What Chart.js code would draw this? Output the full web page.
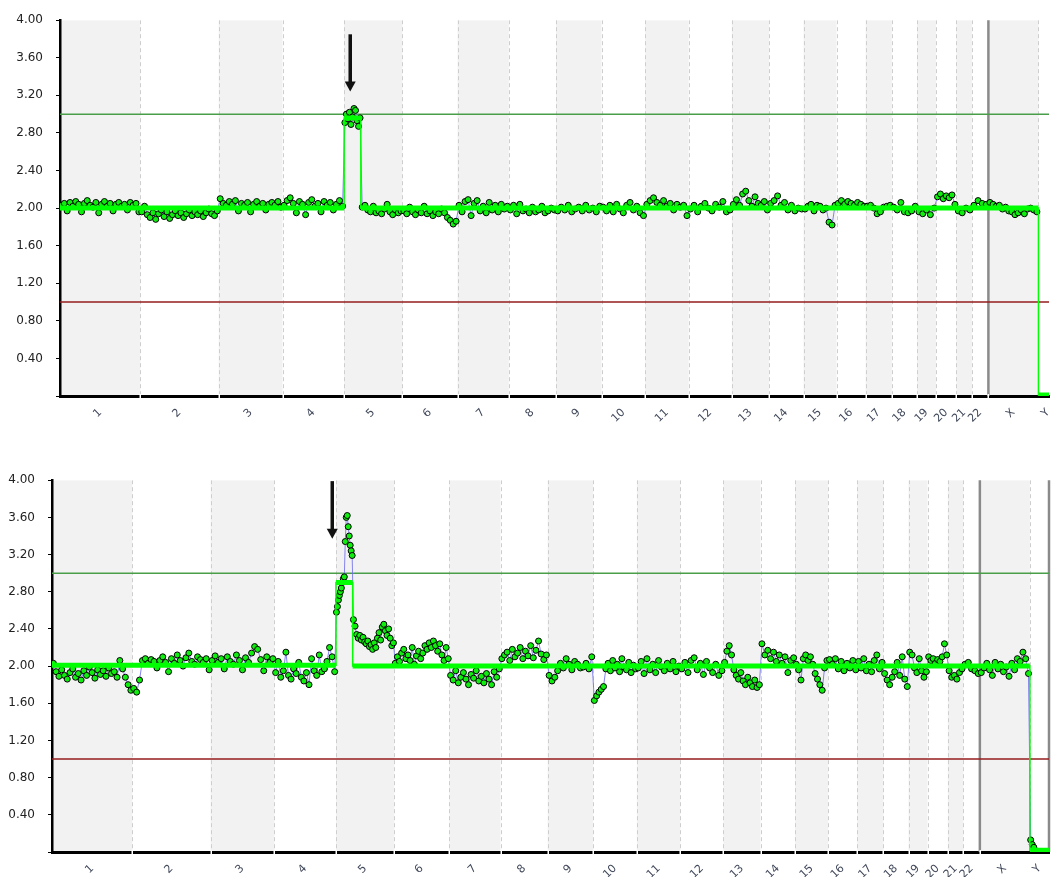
<!DOCTYPE html>
<html>
<head>
<meta charset="utf-8">
<script src="https://cdn.jsdelivr.net/npm/chart.js@4.4.1/dist/chart.umd.min.js"></script>
<style>
  body { margin: 0; background: #fff; }
  canvas { position: absolute; left: 0; }
  #chartTop { top: 0; }
  #chartBottom { top: 460px; }
</style>
</head>
<body>
<canvas id="chartTop" width="1054" height="440"></canvas>
<canvas id="chartBottom" width="1054" height="417"></canvas>
<script>
// chromosomes and their lengths (Mb)
const chromNames = ['1', '2', '3', '4', '5', '6', '7', '8', '9', '10', '11', '12',
  '13', '14', '15', '16', '17', '18', '19', '20', '21', '22', 'X', 'Y'];
const chromMb = [249.25, 243.2, 198.0, 191.2, 180.9, 171.1, 159.1, 146.4, 141.2, 135.5, 135.0, 133.9,
  115.2, 107.3, 102.5, 90.4, 81.2, 78.1, 59.1, 63.0, 48.1, 51.3, 155.3, 59.4];
const gainBreakMb = 933.5; // end of the 5p gain

const yTicks = [0, 0.4, 0.8, 1.2, 1.6, 2.0, 2.4, 2.8, 3.2, 3.6, 4.0];
const refLevels = [3, 1];

// ratio values per region: chr1..chr4, chr5 (gain part), chr5 (rest), chr6..chrY
const topRatio = [
  [2.03, 2.05, 1.97, 2.06, 2.02, 2.07, 2.04, 1.96, 2.05, 2.08, 2.03, 2.01, 2.06, 1.95, 2.04, 2.07, 2.02, 2.05, 1.97, 2.04, 2.06, 2.02, 2.04, 1.98, 2.06, 2.03, 2.05, 1.96],
  [1.96, 2.02, 1.93, 1.90, 1.95, 1.88, 1.94, 1.98, 1.91, 1.96, 1.89, 1.93, 1.97, 1.92, 1.95, 1.90, 1.94, 1.98, 1.92, 1.96, 1.93, 1.97, 1.91, 1.95, 1.99, 1.94, 1.92, 1.97],
  [2.10, 2.05, 2.03, 2.07, 2.04, 2.08, 1.97, 2.05, 2.03, 2.06, 1.96, 2.04, 2.07, 2.02, 2.05, 1.98, 2.04, 2.06, 2.03, 2.07, 2.01],
  [2.03, 2.08, 2.11, 2.05, 1.95, 2.07, 2.04, 1.93, 2.06, 2.09, 2.02, 2.05, 1.96, 2.07, 2.03, 2.06, 1.98, 2.04, 2.08, 2.02],
  [2.91, 3.00, 2.95, 3.02, 2.89, 2.97, 3.06, 3.04, 2.93, 2.87, 2.96],
  [2.01, 2.03, 1.98, 1.96, 2.02, 1.95, 1.97, 1.94, 1.99, 2.04, 1.96, 1.93, 1.98, 1.95, 1.97],
  [1.97, 1.94, 2.01, 1.96, 1.93, 1.98, 1.95, 2.02, 1.94, 1.97, 1.92, 1.96, 1.94, 1.99, 1.95, 1.90, 1.87, 1.83, 1.86],
  [2.03, 1.96, 2.07, 2.09, 1.92, 2.05, 2.08, 1.97, 2.02, 1.95, 2.06, 1.98, 2.03, 1.96, 2.04, 1.99, 2.02],
  [1.98, 2.03, 1.94, 2.04, 1.97, 1.99, 1.95, 2.01, 1.96, 1.98, 2.02, 1.95, 1.97, 2.00, 1.98],
  [1.97, 2.01, 1.98, 2.03, 1.96, 1.99, 2.01, 1.97, 2.03, 1.98, 2.00, 1.96, 2.02],
  [2.01, 1.97, 2.03, 1.96, 2.04, 1.99, 1.95, 2.03, 2.06, 1.98, 2.02, 1.95, 1.92],
  [2.04, 2.08, 2.11, 2.06, 2.03, 2.08, 2.02, 2.05, 1.98, 2.04, 2.01, 2.03, 1.92],
  [1.99, 2.03, 1.96, 2.02, 2.05, 2.00, 1.97, 2.04, 2.01, 2.07, 1.96, 1.98],
  [2.04, 2.09, 2.03, 2.15, 2.18, 2.08, 2.02, 2.12, 2.05, 2.03, 2.07, 1.98],
  [2.05, 2.08, 2.13, 2.03, 2.06, 1.98, 2.03, 1.97, 2.00, 1.99],
  [1.99, 2.02, 2.04, 1.97, 2.03, 2.02, 1.98, 2.00, 1.85, 1.82, 2.03],
  [2.05, 2.08, 2.04, 2.07, 2.05, 2.03, 2.06, 2.04, 2.02],
  [2.02, 2.03, 2.00, 1.94, 1.96, 2.01, 2.02, 2.03],
  [2.01, 1.98, 2.06, 1.96, 1.95, 1.97, 2.02],
  [1.96, 1.94, 1.98, 1.93, 2.00],
  [2.12, 2.15, 2.10, 2.13, 2.11, 2.14, 2.04],
  [1.97, 1.95, 2.00, 1.98],
  [2.03, 2.08, 2.05, 2.04],
  [2.06, 2.04, 2.02, 2.03, 1.99, 2.01, 1.97, 1.96, 1.93, 1.95, 1.98, 1.94, 1.99, 2.00, 1.98, 1.96],
  []
];

const bottomRatio = [
  [2.03, 1.94, 1.89, 1.96, 1.90, 1.86, 1.93, 1.97, 1.88, 1.92, 1.85, 1.95, 1.90, 1.99, 1.93, 1.87, 1.96, 1.91, 1.95, 1.89, 1.98, 1.92, 1.94, 1.88, 2.06, 1.97, 1.88, 1.80, 1.74],
  [1.76, 1.72, 1.85, 2.06, 2.08, 2.03, 2.07, 2.05, 1.98, 2.06, 2.10, 2.04, 1.94, 2.08, 2.03, 2.12, 2.06, 2.00, 2.09, 2.14, 2.05, 2.02, 2.10, 2.07, 2.04, 2.08, 1.96],
  [2.06, 2.11, 2.04, 2.08, 1.97, 2.10, 2.05, 2.02, 2.12, 2.06, 1.96, 2.09, 2.04, 2.14, 2.21, 2.18, 2.07, 1.95, 2.10, 2.04, 2.08],
  [1.93, 2.05, 1.88, 1.95, 2.15, 1.90, 1.86, 1.97, 1.92, 2.04, 1.88, 1.84, 1.93, 1.80, 2.08, 1.95, 1.90, 2.12, 1.94, 1.97, 2.05, 2.20, 2.10, 1.94],
  [2.58, 2.64, 2.71, 2.76, 2.80, 2.84, 2.90, 2.94, 2.96, 3.34, 3.60, 3.62, 3.50, 3.40, 3.30, 3.24, 3.19],
  [2.50, 2.43, 2.34, 2.30, 2.33, 2.28, 2.31, 2.26, 2.24, 2.27, 2.21, 2.23, 2.18, 2.25, 2.20, 2.30, 2.36, 2.28, 2.42, 2.45, 2.38, 2.33, 2.40, 2.30, 2.22, 2.25],
  [2.03, 2.10, 2.05, 2.14, 2.18, 2.08, 2.12, 2.06, 2.20, 2.02, 2.11, 2.16, 2.08, 2.14, 2.22, 2.18, 2.25, 2.20, 2.27, 2.22, 2.16, 2.24, 2.12, 2.06, 2.20, 2.08],
  [1.90, 1.85, 1.95, 1.82, 1.88, 1.93, 1.86, 1.80, 1.91, 1.87, 1.95, 1.84, 1.89, 1.82, 1.92, 1.86, 1.80, 1.94, 1.88, 1.97],
  [2.08, 2.12, 2.15, 2.06, 2.18, 2.10, 2.14, 2.20, 2.08, 2.16, 2.11, 2.22, 2.09, 2.17, 2.27, 2.13, 2.07, 2.12],
  [1.90, 1.84, 1.88, 1.95, 2.03, 1.98, 2.08, 2.02, 1.96, 2.05, 2.02, 1.98, 1.99, 2.03, 1.97, 2.10],
  [1.63, 1.68, 1.72, 1.75, 1.78, 1.97, 2.03, 1.95, 2.06, 1.98, 2.02, 1.94, 2.08, 1.99, 1.96, 2.04, 1.93, 2.01, 1.97],
  [1.98, 2.05, 1.92, 2.08, 1.96, 2.02, 1.93, 2.06, 1.99, 1.95, 2.03, 1.97, 2.05, 1.94, 2.00],
  [1.97, 2.04, 1.93, 2.06, 2.09, 1.96, 2.03, 1.91, 2.05, 1.98, 1.93, 2.02, 1.90, 1.95],
  [2.04, 2.16, 2.22, 2.12, 1.96, 1.90, 1.86, 1.93, 1.84, 1.80, 1.88, 1.82, 1.78, 1.85, 1.77, 1.80],
  [2.24, 2.12, 2.17, 2.08, 2.15, 2.05, 2.12, 2.03, 2.10, 1.93, 2.06, 2.09],
  [2.02, 1.96, 1.85, 2.08, 2.12, 2.06, 2.10, 2.02, 1.92, 1.86, 1.80, 1.74, 1.98, 2.06],
  [2.07, 2.02, 2.08, 1.97, 2.05, 1.95, 2.03, 1.98, 2.06, 1.96],
  [2.05, 1.98, 2.08, 1.95, 2.02, 1.94, 2.06, 2.12, 1.97, 2.04],
  [1.92, 1.85, 1.80, 1.88, 1.94, 2.04, 1.90, 2.10, 1.86, 1.78],
  [2.15, 2.12, 1.98, 1.93, 2.08, 1.95, 1.88, 1.94],
  [2.10, 2.06, 2.08, 2.03, 2.07, 2.05, 2.10, 2.24, 2.12],
  [1.95, 1.88, 1.90, 1.86, 1.93, 1.97],
  [2.02, 2.04, 1.97, 1.95, 1.92],
  [1.93, 1.98, 2.03, 1.96, 1.90, 2.04, 1.97, 2.02, 1.94, 1.99, 1.89, 2.03, 1.96, 2.08, 2.05, 2.15, 2.08, 1.92],
  [0.13, 0.08, 0.05, null, null, null, null, null, null, null, null, null]
];

// copy-number segments: [startMb, endMb, level]
const topSegments = [[0, 881.65, 2.0], [881.65, 933.5, 2.96], [933.5, 3036.25, 2.0], [3036.25, 3095.65, 0.01]];
const bottomSegments = [[0, 881.65, 2.01], [881.65, 933.5, 2.9], [933.5, 3036.25, 2.0], [3036.25, 3095.65, 0.02]];

// arrows: [xMb, fromY, toY]
const topArrow = [900.6, 3.85, 3.24];
const bottomArrow = [870.2, 3.99, 3.37];

// chromosome starts / regions
const chromStart = [];
let acc = 0;
chromMb.forEach(len => { chromStart.push(acc); acc += len; });
const genomeEnd = acc;
const chromCenter = chromMb.map((len, i) => chromStart[i] + len / 2);
const regions = [];
chromMb.forEach((len, i) => {
  if (i === 4) {
    regions.push([chromStart[i], gainBreakMb]);
    regions.push([gainBreakMb, chromStart[i] + len]);
  } else {
    regions.push([chromStart[i], chromStart[i] + len]);
  }
});

function toPoints(ratio) {
  const pts = [];
  ratio.forEach((vals, r) => {
    const [s, e] = regions[r];
    vals.forEach((v, i) => pts.push({ x: s + (i + 0.5) * (e - s) / vals.length, y: v }));
  });
  return pts;
}

const genomePlugin = {
  id: 'genome',
  beforeDraw(chart) {
    const { ctx, chartArea: a, scales: { x } } = chart;
    ctx.save();
    ctx.beginPath();
    ctx.rect(a.left, a.top, a.right - a.left, a.bottom - a.top);
    ctx.clip();
    ctx.fillStyle = '#f2f2f2';
    chromStart.forEach((s, i) => {
      if (i % 2 === 0) {
        const x0 = x.getPixelForValue(s);
        const x1 = x.getPixelForValue(s + chromMb[i]);
        ctx.fillRect(x0, a.top, x1 - x0, a.bottom - a.top);
      }
    });
    ctx.setLineDash([4, 3]);
    ctx.strokeStyle = '#cecece';
    ctx.lineWidth = 1;
    chromStart.forEach((s, i) => {
      if (i === 0 || i === 22) return;
      const px = Math.round(x.getPixelForValue(s)) + 0.5;
      ctx.beginPath();
      ctx.moveTo(px, a.top);
      ctx.lineTo(px, a.bottom);
      ctx.stroke();
    });
    ctx.restore();
  },
  beforeDatasetsDraw(chart) {
    const { ctx, chartArea: a, scales: { x, y } } = chart;
    ctx.save();
    // solid separators at the start of X and the end of Y
    ctx.strokeStyle = '#8a8a8a';
    ctx.lineWidth = 2.5;
    [chromStart[22], genomeEnd].forEach(v => {
      const px = x.getPixelForValue(v);
      if (px > a.right + 1) return;
      ctx.beginPath();
      ctx.moveTo(px, a.top);
      ctx.lineTo(px, a.bottom);
      ctx.stroke();
    });
    // gain / loss thresholds
    const colors = ['#4a9e4a', '#941c1c'];
    refLevels.forEach((lv, i) => {
      const py = y.getPixelForValue(lv);
      ctx.strokeStyle = colors[i];
      ctx.lineWidth = 1.5;
      ctx.beginPath();
      ctx.moveTo(a.left, py);
      ctx.lineTo(a.right, py);
      ctx.stroke();
    });
    ctx.restore();
  },
  afterDatasetsDraw(chart) {
    const { ctx, chartArea: a, scales: { x, y } } = chart;
    const arrow = chart.options.plugins.genome.arrow;
    ctx.save();
    // white notches in the axis line at chromosome boundaries
    ctx.fillStyle = '#fff';
    chromStart.forEach((s, i) => {
      if (i === 0 || i > 22) return;
      const px = Math.round(x.getPixelForValue(s));
      ctx.fillRect(px - 0.5, a.bottom - 2, 1.5, 4);
    });
    // arrow
    const ax = x.getPixelForValue(arrow[0]);
    const y0 = y.getPixelForValue(arrow[1]);
    const y1 = y.getPixelForValue(arrow[2]);
    ctx.strokeStyle = '#111';
    ctx.fillStyle = '#111';
    ctx.lineWidth = 3.5;
    ctx.beginPath();
    ctx.moveTo(ax, y0);
    ctx.lineTo(ax, y1 - 9);
    ctx.stroke();
    ctx.beginPath();
    ctx.moveTo(ax - 5.5, y1 - 10);
    ctx.lineTo(ax + 5.5, y1 - 10);
    ctx.lineTo(ax, y1);
    ctx.closePath();
    ctx.fill();
    ctx.restore();
  }
};

Chart.defaults.font.family = 'DejaVu Sans';

function makeChart(id, ratio, segments, arrow, xMax, yWidth, xHeight, padRight) {
  const thin = segments.flatMap(([s, e, v]) => [{ x: s, y: v }, { x: e, y: v }]);
  const thick = segments.flatMap(([s, e, v]) => [{ x: s, y: v }, { x: e, y: v }, { x: e, y: null }]);
  return new Chart(document.getElementById(id), {
    type: 'scatter',
    data: {
      datasets: [
        { data: thick, showLine: true, borderColor: '#00ff00', borderWidth: 5, pointRadius: 0, spanGaps: false, borderCapStyle: 'butt' },
        { data: thin, showLine: true, borderColor: '#00ff00', borderWidth: 1.5, pointRadius: 0 },
        {
          data: toPoints(ratio), showLine: true, spanGaps: false,
          borderColor: 'rgba(110,110,235,0.85)', borderWidth: 1,
          pointRadius: 3, pointBorderWidth: 1,
          pointBackgroundColor: '#10ee10', pointBorderColor: '#000'
        }
      ]
    },
    options: {
      responsive: false,
      animation: false,
      events: [],
      layout: { padding: { top: 16, left: 0, right: padRight, bottom: 0 } },
      elements: { line: { tension: 0 } },
      plugins: { legend: { display: false }, tooltip: { enabled: false }, genome: { arrow: arrow } },
      scales: {
        x: {
          type: 'linear', min: 0, max: xMax,
          grid: { display: false, drawTicks: false },
          border: { display: true, color: '#000', width: 3 },
          afterBuildTicks: s => { s.ticks = chromCenter.map(v => ({ value: v })); },
          afterFit: s => { s.height = xHeight; s.paddingLeft = 0; s.paddingRight = 0; },
          ticks: {
            autoSkip: false, minRotation: 45, maxRotation: 45, padding: 10,
            color: '#40485a', font: { size: 11 },
            callback: (v, i) => chromNames[i]
          }
        },
        y: {
          min: 0, max: 4,
          afterBuildTicks: s => { s.ticks = yTicks.map(v => ({ value: v })); },
          afterFit: s => { s.width = yWidth; },
          grid: { display: true, drawOnChartArea: false, drawTicks: true, tickLength: 4, color: '#000' },
          border: { display: true, color: '#000', width: 2.5 },
          ticks: {
            padding: 13, color: '#222', font: { size: 12 },
            callback: v => v === 0 ? '' : v.toFixed(2)
          }
        }
      }
    },
    plugins: [genomePlugin]
  });
}

makeChart('chartTop', topRatio, topSegments, topArrow, 3069, 60, 44, 0);
makeChart('chartBottom', bottomRatio, bottomSegments, bottomArrow, genomeEnd, 52, 25, 5);
</script>
</body>
</html>
